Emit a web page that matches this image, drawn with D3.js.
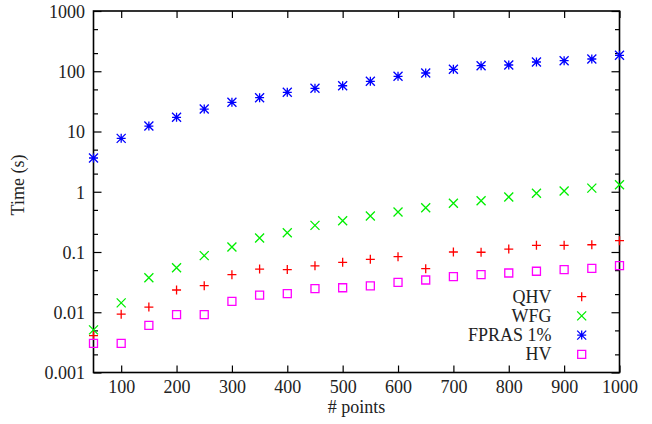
<!DOCTYPE html>
<html>
<head>
<meta charset="utf-8">
<script src="https://cdn.jsdelivr.net/npm/d3@7"></script>
<style>
  html, body { margin: 0; padding: 0; background: #fff; }
  svg text { font-family: "Liberation Serif", "Times New Roman", serif; fill: #222; }
</style>
</head>
<body>
<svg id="chart" width="652" height="424"></svg>
<script>
// Running time versus number of points, log scale
const points = [50, 100, 150, 200, 250, 300, 350, 400, 450, 500,
                550, 600, 650, 700, 750, 800, 850, 900, 950, 1000];

const qhv = [0.0041, 0.0093, 0.0122, 0.0234, 0.0276, 0.042, 0.052, 0.051, 0.059, 0.0675,
             0.0757, 0.0836, 0.0528, 0.100, 0.099, 0.112, 0.129, 0.129, 0.132, 0.154];
const wfg = [0.0051, 0.0143, 0.0374, 0.0548, 0.087, 0.121, 0.171, 0.209, 0.277, 0.331,
             0.396, 0.461, 0.543, 0.643, 0.710, 0.818, 0.942, 1.03, 1.15, 1.31];
const fpras = [3.63, 7.7, 12.3, 17.2, 23.6, 30.5, 36.4, 44.7, 52.1, 57.5,
               68.1, 82.4, 93.5, 107.8, 123.6, 127, 142.4, 149.6, 159.7, 184];
const hv = [0.00305, 0.00305, 0.00607, 0.0091, 0.0091, 0.0152, 0.0193, 0.0203, 0.0246, 0.0255,
            0.0273, 0.0314, 0.0343, 0.0389, 0.042, 0.0448, 0.0479, 0.0508, 0.0536, 0.0593];

const xTicks = [100, 200, 300, 400, 500, 600, 700, 800, 900, 1000];
const yTicks = [0.001, 0.01, 0.1, 1, 10, 100, 1000];
const yTickLabels = ["0.001", "0.01", "0.1", "1", "10", "100", "1000"];

const series = [
  { name: "QHV", values: qhv, color: "#ff0000", shape: "plus" },
  { name: "WFG", values: wfg, color: "#00ee00", shape: "cross" },
  { name: "FPRAS 1%", values: fpras, color: "#0000ff", shape: "star" },
  { name: "HV", values: hv, color: "#ff00ff", shape: "square" }
];

const plotLeft = 93.5, plotRight = 619.5, plotTop = 11, plotBottom = 372.5;
const svg = d3.select("#chart");

const x = d3.scaleLinear().domain([50, 1000]).range([plotLeft, plotRight]);
const y = d3.scaleLog().domain([0.001, 1000]).range([plotBottom, plotTop]);

// minor ticks at 2 and 5 of each decade
const yMinor = y.ticks().filter(v => {
  const m = Math.round(v / Math.pow(10, Math.floor(Math.log10(v) + 1e-9)));
  return m === 2 || m === 5;
});

function styleAxis(g) {
  g.select(".domain").remove();
  g.selectAll("line").attr("stroke", "#000").attr("stroke-width", 1.2);
}

// bottom axis with labels
svg.append("g")
  .attr("transform", `translate(0,${plotBottom})`)
  .call(d3.axisBottom(x).tickValues(xTicks).tickSize(-7).tickFormat(d3.format("d")))
  .call(styleAxis)
  .call(g => g.selectAll("text").attr("font-size", 18).attr("fill", "#222")
    .attr("y", 20.5).attr("dy", 0));

// top mirrored ticks
svg.append("g")
  .attr("transform", `translate(0,${plotTop})`)
  .call(d3.axisTop(x).tickValues(xTicks).tickSize(-7).tickFormat(""))
  .call(styleAxis);

// left axis, major ticks with labels
svg.append("g")
  .attr("transform", `translate(${plotLeft},0)`)
  .call(d3.axisLeft(y).tickValues(yTicks).tickSize(-8)
    .tickFormat((d, i) => yTickLabels[i]))
  .call(styleAxis)
  .call(g => g.selectAll("text").attr("font-size", 18).attr("fill", "#222")
    .attr("x", -8.5).attr("dy", "0.36em"));

// left minor ticks
svg.append("g")
  .attr("transform", `translate(${plotLeft},0)`)
  .call(d3.axisLeft(y).tickValues(yMinor).tickSize(-4.5).tickFormat(""))
  .call(styleAxis);

// right mirrored ticks
svg.append("g")
  .attr("transform", `translate(${plotRight},0)`)
  .call(d3.axisRight(y).tickValues(yTicks).tickSize(-8).tickFormat(""))
  .call(styleAxis);
svg.append("g")
  .attr("transform", `translate(${plotRight},0)`)
  .call(d3.axisRight(y).tickValues(yMinor).tickSize(-4.5).tickFormat(""))
  .call(styleAxis);

// plot border
svg.append("rect")
  .attr("x", plotLeft).attr("y", plotTop)
  .attr("width", plotRight - plotLeft).attr("height", plotBottom - plotTop)
  .attr("fill", "none").attr("stroke", "#000").attr("stroke-width", 1.6);

// marker shapes
function markerPath(shape, cx, cy) {
  const p = d3.path();
  const r = 4.5;
  if (shape === "plus") {
    p.moveTo(cx - r, cy); p.lineTo(cx + r, cy);
    p.moveTo(cx, cy - r); p.lineTo(cx, cy + r);
  } else if (shape === "cross") {
    p.moveTo(cx - r, cy - r); p.lineTo(cx + r, cy + r);
    p.moveTo(cx - r, cy + r); p.lineTo(cx + r, cy - r);
  } else if (shape === "star") {
    p.moveTo(cx - r, cy); p.lineTo(cx + r, cy);
    p.moveTo(cx, cy - r); p.lineTo(cx, cy + r);
    p.moveTo(cx - r, cy - r); p.lineTo(cx + r, cy + r);
    p.moveTo(cx - r, cy + r); p.lineTo(cx + r, cy - r);
  } else {
    const s = 4;
    p.rect(cx - s, cy - s, 2 * s, 2 * s);
  }
  return p.toString();
}

series.forEach(s => {
  svg.append("g")
    .selectAll("path")
    .data(points.map((p, i) => ({ p, v: s.values[i] })))
    .join("path")
    .attr("d", d => markerPath(s.shape, x(d.p), y(d.v)))
    .attr("fill", "none")
    .attr("stroke", s.color)
    .attr("stroke-width", 1.3);
});

// legend
const legend = svg.append("g");
series.forEach((s, i) => {
  const ly = 296.7 + i * 19.2;
  legend.append("text")
    .attr("x", 551.5).attr("y", ly).attr("dy", "0.34em")
    .attr("text-anchor", "end").attr("font-size", 18)
    .text(s.name);
  legend.append("path")
    .attr("d", markerPath(s.shape, 581.7, ly))
    .attr("fill", "none").attr("stroke", s.color).attr("stroke-width", 1.3);
});

// axis titles
svg.append("text")
  .attr("x", (plotLeft + plotRight) / 2).attr("y", 413)
  .attr("text-anchor", "middle").attr("font-size", 18)
  .text("# points");

svg.append("text")
  .attr("transform", "translate(23.5,185) rotate(-90)")
  .attr("text-anchor", "middle").attr("font-size", 18)
  .text("Time (s)");
</script>
</body>
</html>
